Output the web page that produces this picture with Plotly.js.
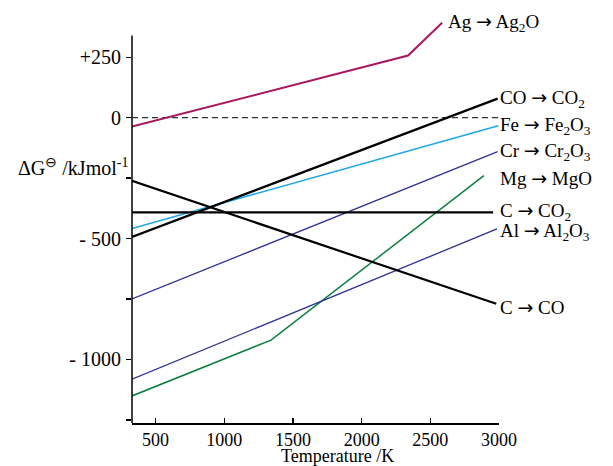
<!DOCTYPE html>
<html>
<head>
<meta charset="utf-8">
<script src="https://cdn.plot.ly/plotly-3.0.1.min.js"></script>
<style>html,body{margin:0;padding:0;background:#fff;}#chart{width:613px;height:466px;}</style>
</head>
<body>
<div id="chart"></div>
<script>
// Temperature (K) and ΔG° (kJ/mol)
const agT = [328, 2338, 2586];
const agG = [-37, 257, 393];
const coco2T = [328, 2990];
const coco2G = [-493, 79];
const feT = [328, 2995];
const feG = [-458, -33];
const crT = [328, 2990];
const crG = [-750, -140];
const mgT = [328, 1340, 2890];
const mgG = [-1151, -920, -240];
const cco2T = [328, 2957];
const cco2G = [-392, -392];
const alT = [328, 2985];
const alG = [-1082, -460];
const ccoT = [328, 2980];
const ccoG = [-261, -770];
const zeroT = [328, 3000];
const zeroG = [0, 0];

const xTicks = [500, 1000, 1500, 2000, 2500, 3000];
const yTickVals = [250, 0, -250, -500, -750, -1000, -1250];
const yTickText = ['+250', '0', '', '- 500', '', '- 1000', ''];

const ARROW = ' <span style="font-family:DejaVu Sans">→</span> ';
const labels = [
  {name: 'Ag' + ARROW + 'Ag<sub>2</sub>O', t: agT, g: agG, atEnd: true, dy: 0},
  {name: 'CO' + ARROW + 'CO<sub>2</sub>', t: coco2T, g: coco2G, dy: 0},
  {name: 'Fe' + ARROW + 'Fe<sub>2</sub>O<sub>3</sub>', t: feT, g: feG, dy: 0},
  {name: 'Cr' + ARROW + 'Cr<sub>2</sub>O<sub>3</sub>', t: crT, g: crG, dy: 0},
  {name: 'Mg' + ARROW + 'MgO', t: mgT, g: mgG, dy: -2},
  {name: 'C' + ARROW + 'CO<sub>2</sub>', t: cco2T, g: cco2G, dy: 1},
  {name: 'Al' + ARROW + 'Al<sub>2</sub>O<sub>3</sub>', t: alT, g: alG, dy: -3},
  {name: 'C' + ARROW + 'CO', t: ccoT, g: ccoG, dy: -3}
];

const FONT = 'Liberation Serif, Times New Roman, serif';
const FS = 19;
const TFS = 18;

function tr(x, y, color, width, dash) {
  return {x: x, y: y, type: 'scatter', mode: 'lines', hoverinfo: 'skip',
    line: {color: color, width: width, dash: dash || 'solid'}};
}

const data = [
  tr(zeroT, zeroG, '#333333', 1.2, '6px,4px'),
  tr(agT, agG, '#A8185E', 2),
  tr(feT, feG, '#1EA6E6', 1.5),
  tr(crT, crG, '#2E3192', 1.3),
  tr(mgT, mgG, '#0E7F42', 1.5),
  tr(alT, alG, '#2E3192', 1.3),
  tr(coco2T, coco2G, '#000000', 2.2),
  tr(cco2T, cco2G, '#000000', 2.2),
  tr(ccoT, ccoG, '#000000', 2.2)
];

const annotations = labels.map(l => ({
  x: l.atEnd ? l.t[l.t.length - 1] : xTicks[xTicks.length - 1],
  y: l.g[l.g.length - 1],
  xref: 'x', yref: 'y', xanchor: 'left', yanchor: 'middle',
  xshift: l.atEnd ? 4 : -1, yshift: l.dy,
  text: l.name, showarrow: false,
  font: {family: FONT, size: FS, color: '#000'}
}));
annotations.push({
  xref: 'paper', yref: 'paper', x: -0.005, y: 0.638, xanchor: 'right', yanchor: 'middle',
  text: 'ΔG<sup>⊖</sup> /kJmol<sup>-1</sup>', showarrow: false,
  font: {family: FONT, size: 20, color: '#000'}
});
annotations.push({
  xref: 'paper', yref: 'paper', x: 0.56, y: -0.081, xanchor: 'center', yanchor: 'middle',
  text: 'Temperature /K', showarrow: false,
  font: {family: FONT, size: 18, color: '#000'}
});

const layout = {
  width: 613, height: 466,
  margin: {l: 132, r: 114, t: 21, b: 43},
  paper_bgcolor: '#ffffff', plot_bgcolor: '#ffffff',
  showlegend: false,
  font: {family: FONT, size: FS, color: '#000'},
  xaxis: {
    range: [328, 3000], tickvals: xTicks, ticks: 'inside', ticklen: 5, tickwidth: 1.5,
    tickcolor: '#000', showline: true, linecolor: '#000', linewidth: 1.5,
    showgrid: false, zeroline: false, fixedrange: true,
    tickfont: {family: FONT, size: TFS, color: '#000'}
  },
  yaxis: {
    range: [-1263, 400], tickvals: yTickVals, ticktext: yTickText, ticks: 'outside',
    ticklen: 5, tickwidth: 1.5, tickcolor: '#000', showline: false,
    showgrid: false, zeroline: false, fixedrange: true, ticklabelstandoff: 1,
    tickfont: {family: FONT, size: 20, color: '#000'}
  },
  shapes: [{
    type: 'line', xref: 'paper', yref: 'y', x0: 0, x1: 0, y0: -1263, y1: 340,
    line: {color: '#000', width: 1.5}
  }],
  annotations: annotations
};

Plotly.newPlot('chart', data, layout, {displayModeBar: false, staticPlot: true});
</script>
</body>
</html>
